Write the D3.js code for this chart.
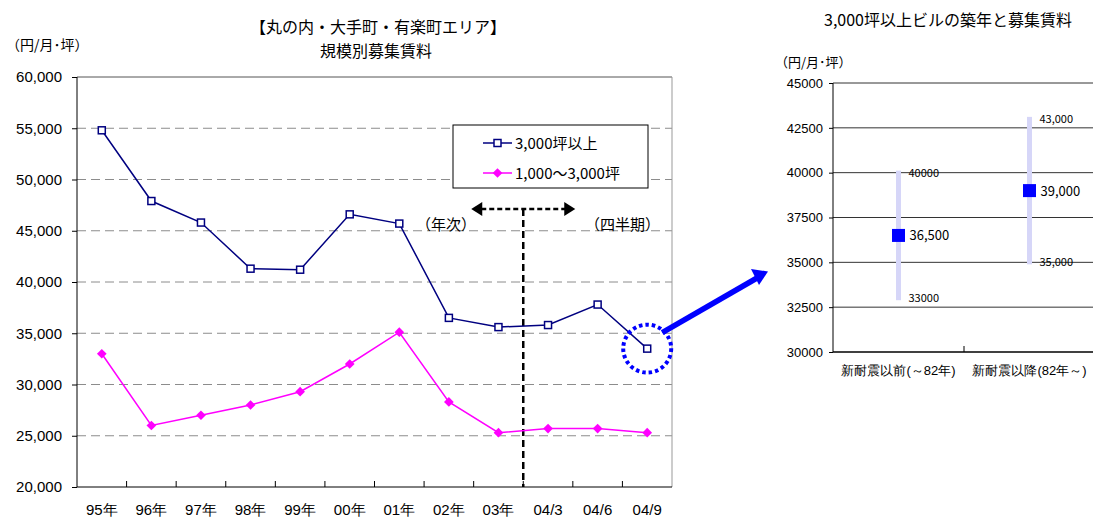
<!DOCTYPE html>
<html>
<head>
<meta charset="utf-8">
<script src="https://cdn.jsdelivr.net/npm/d3@7/dist/d3.min.js"></script>
<style>
  body { margin: 0; background: #fff; }
  svg { font-family: "Noto Sans CJK JP", "Noto Sans", sans-serif; }
  .axis path, .axis line { stroke: #000; }
  .axis text { fill: #000; }
</style>
</head>
<body>
<svg id="chart" width="1093" height="522"></svg>
<script>
// left chart data
var categories = ["95年", "96年", "97年", "98年", "99年", "00年", "01年", "02年", "03年", "04/3", "04/6", "04/9"];
var largeRent = [54800, 47900, 45800, 41300, 41200, 46600, 45700, 36500, 35600, 35800, 37800, 33500];
var midRent = [33000, 26000, 27000, 28000, 29300, 32000, 35100, 28300, 25300, 25700, 25700, 25300];
var seriesNames = ["3,000坪以上", "1,000～3,000坪"];
var leftTicks = [20000, 25000, 30000, 35000, 40000, 45000, 50000, 55000, 60000];

// right chart data
var ageGroups = ["新耐震以前(～82年)", "新耐震以降(82年～)"];
var ageMax = [40000, 43000];
var ageMin = [33000, 35000];
var ageAvg = [36500, 39000];
var maxLabels = ["40000", "43,000"];
var minLabels = ["33000", "35,000"];
var avgLabels = ["36,500", "39,000"];
var rightTicks = [30000, 32500, 35000, 37500, 40000, 42500, 45000];

var svg = d3.select("#chart");

// ---------- left chart ----------
var x = d3.scaleBand().domain(categories).range([77, 672]);
var y = d3.scaleLinear().domain([20000, 60000]).range([487, 77]);
var cx = function(i) { return x(categories[i]) + x.bandwidth() / 2; };

svg.append("text").attr("x", 378).attr("y", 33).attr("text-anchor", "middle")
  .attr("font-size", "16px").text("【丸の内・大手町・有楽町エリア】");
svg.append("text").attr("x", 376).attr("y", 57).attr("text-anchor", "middle")
  .attr("font-size", "16px").text("規模別募集賃料");
svg.append("text").attr("x", 6).attr("y", 50).attr("font-size", "14px").text("（円/月･坪）");

// gridlines
svg.append("g").selectAll("line")
  .data(leftTicks.filter(function(d) { return d > 20000 && d < 60000; }))
  .enter().append("line")
  .attr("x1", 77).attr("x2", 672)
  .attr("y1", function(d) { return y(d); }).attr("y2", function(d) { return y(d); })
  .attr("stroke", "#8c8c8c").attr("stroke-dasharray", "9,5");

// frame top / right
svg.append("line").attr("x1", 77).attr("x2", 672).attr("y1", y(60000)).attr("y2", y(60000)).attr("stroke", "#555");
svg.append("line").attr("x1", 672).attr("x2", 672).attr("y1", y(60000)).attr("y2", y(20000)).attr("stroke", "#999");

var yAxis = svg.append("g").attr("class", "axis").attr("transform", "translate(77,0)")
  .call(d3.axisLeft(y).tickValues(leftTicks).tickFormat(d3.format(",")).tickSize(5).tickPadding(10));
yAxis.select(".domain").attr("d", "M0," + y(60000) + "V" + y(20000));
yAxis.selectAll("text").attr("font-size", "15px");

var xAxis = svg.append("g").attr("class", "axis").attr("transform", "translate(0,487)")
  .call(d3.axisBottom(x).tickSize(0).tickPadding(17));
xAxis.select(".domain").attr("d", "M77,0H672");
xAxis.selectAll("text").attr("font-size", "15px");

// band boundary ticks (inward)
svg.append("g").selectAll("line")
  .data(categories.slice(1))
  .enter().append("line")
  .attr("x1", function(d) { return x(d); }).attr("x2", function(d) { return x(d); })
  .attr("y1", 487).attr("y2", 481).attr("stroke", "#000");

// separator between annual and quarterly
var sepX = x("04/3");
svg.append("line").attr("x1", sepX).attr("x2", sepX).attr("y1", 209).attr("y2", 487)
  .attr("stroke", "#000").attr("stroke-width", 2.5).attr("stroke-dasharray", "7,4");
svg.append("line").attr("x1", sepX - 42).attr("x2", sepX + 42).attr("y1", 209).attr("y2", 209)
  .attr("stroke", "#000").attr("stroke-width", 2.5).attr("stroke-dasharray", "5,3");
svg.append("path").attr("d", "M" + (sepX - 52) + ",209l11,-7v14z").attr("fill", "#000");
svg.append("path").attr("d", "M" + (sepX + 52) + ",209l-11,-7v14z").attr("fill", "#000");
svg.append("text").attr("x", 416).attr("y", 230).attr("font-size", "15px").text("（年次）");
svg.append("text").attr("x", 585).attr("y", 230).attr("font-size", "15px").text("（四半期）");

// series
var line = d3.line().x(function(d, i) { return cx(i); }).y(function(d) { return y(d); });
svg.append("path").datum(midRent).attr("d", line).attr("fill", "none").attr("stroke", "#ff00ff").attr("stroke-width", 1.5);
svg.append("path").datum(largeRent).attr("d", line).attr("fill", "none").attr("stroke", "#000080").attr("stroke-width", 1.5);

var diamond = d3.symbol().type(d3.symbolDiamond2).size(60);
svg.append("g").selectAll("path").data(midRent).enter().append("path")
  .attr("d", diamond)
  .attr("transform", function(d, i) { return "translate(" + cx(i) + "," + y(d) + ")"; })
  .attr("fill", "#ff00ff");
svg.append("g").selectAll("rect").data(largeRent).enter().append("rect")
  .attr("x", function(d, i) { return cx(i) - 3.5; })
  .attr("y", function(d) { return y(d) - 3.5; })
  .attr("width", 7).attr("height", 7)
  .attr("fill", "#fff").attr("stroke", "#000080").attr("stroke-width", 1.5);

// legend
var lg = svg.append("g").attr("transform", "translate(453,125)");
lg.append("rect").attr("width", 195).attr("height", 63).attr("fill", "#fff").attr("stroke", "#000");
lg.append("line").attr("x1", 30).attr("x2", 59).attr("y1", 18).attr("y2", 18).attr("stroke", "#000080").attr("stroke-width", 1.5);
lg.append("rect").attr("x", 41).attr("y", 14.5).attr("width", 7).attr("height", 7).attr("fill", "#fff").attr("stroke", "#000080").attr("stroke-width", 1.5);
lg.append("text").attr("x", 62).attr("y", 24).attr("font-size", "15px").text(seriesNames[0]);
lg.append("line").attr("x1", 30).attr("x2", 59).attr("y1", 48).attr("y2", 48).attr("stroke", "#ff00ff").attr("stroke-width", 1.5);
lg.append("path").attr("d", diamond).attr("transform", "translate(44.5,48)").attr("fill", "#ff00ff");
lg.append("text").attr("x", 62).attr("y", 54).attr("font-size", "15px").text(seriesNames[1]);

// highlight circle + arrow to right chart
var last = largeRent.length - 1;
var hx = cx(last), hy = y(largeRent[last]);
svg.append("circle").attr("cx", hx).attr("cy", hy).attr("r", 24)
  .attr("fill", "none").attr("stroke", "#0000ff").attr("stroke-width", 4).attr("stroke-dasharray", "3.5,3");
svg.append("line").attr("x1", hx + 15).attr("y1", hy - 16).attr("x2", 757).attr("y2", 278)
  .attr("stroke", "#0000ff").attr("stroke-width", 5.5);
svg.append("path").attr("d", "M768,271.5L751,269L759,285Z").attr("fill", "#0000ff");

// ---------- right chart ----------
var xr = d3.scaleBand().domain(ageGroups).range([833, 1095]);
var yr = d3.scaleLinear().domain([30000, 45000]).range([352, 83]);
var rc = function(i) { return xr(ageGroups[i]) + xr.bandwidth() / 2; };

svg.append("text").attr("x", 948).attr("y", 26).attr("text-anchor", "middle")
  .attr("font-size", "16px").text("3,000坪以上ビルの築年と募集賃料");
svg.append("text").attr("x", 775).attr("y", 67).attr("font-size", "13px").text("（円/月･坪）");

svg.append("g").selectAll("line")
  .data(rightTicks.filter(function(d) { return d > 30000; }))
  .enter().append("line")
  .attr("x1", 833).attr("x2", 1093)
  .attr("y1", function(d) { return yr(d); }).attr("y2", function(d) { return yr(d); })
  .attr("stroke", "#333");

var ryAxis = svg.append("g").attr("class", "axis").attr("transform", "translate(833,0)")
  .call(d3.axisLeft(yr).tickValues(rightTicks).tickFormat(d3.format("d")).tickSize(4).tickPadding(6));
ryAxis.select(".domain").attr("d", "M0," + yr(45000) + "V" + yr(30000));
ryAxis.selectAll("text").attr("font-size", "13px");

var rxAxis = svg.append("g").attr("class", "axis").attr("transform", "translate(0,352)")
  .call(d3.axisBottom(xr).tickSize(0).tickPadding(14));
rxAxis.select(".domain").attr("d", "M833,0H1093").attr("stroke-width", 1.5);
rxAxis.selectAll("text").attr("font-size", "13px");
svg.append("line").attr("x1", xr(ageGroups[1])).attr("x2", xr(ageGroups[1]))
  .attr("y1", 352).attr("y2", 346).attr("stroke", "#000");

// range bars
svg.append("g").selectAll("rect").data(ageGroups).enter().append("rect")
  .attr("x", function(d, i) { return rc(i) - 2.5; })
  .attr("y", function(d, i) { return yr(ageMax[i]) - 2; })
  .attr("width", 5)
  .attr("height", function(d, i) { return yr(ageMin[i]) - yr(ageMax[i]) + 4; })
  .attr("fill", "#d6d6f8");

svg.append("g").selectAll("rect").data(ageAvg).enter().append("rect")
  .attr("x", function(d, i) { return rc(i) - 6.5; })
  .attr("y", function(d) { return yr(d) - 6.5; })
  .attr("width", 13).attr("height", 13)
  .attr("fill", "#0000ff");

var rl = svg.append("g");
ageGroups.forEach(function(g, i) {
  rl.append("text").attr("x", rc(i) + 10).attr("y", yr(ageMax[i]) + 4).attr("font-size", "11px").text(maxLabels[i]);
  rl.append("text").attr("x", rc(i) + 10).attr("y", yr(ageMin[i]) + 4).attr("font-size", "11px").text(minLabels[i]);
  rl.append("text").attr("x", rc(i) + 11).attr("y", yr(ageAvg[i]) + 5).attr("font-size", "13px").text(avgLabels[i]);
});
</script>
</body>
</html>
